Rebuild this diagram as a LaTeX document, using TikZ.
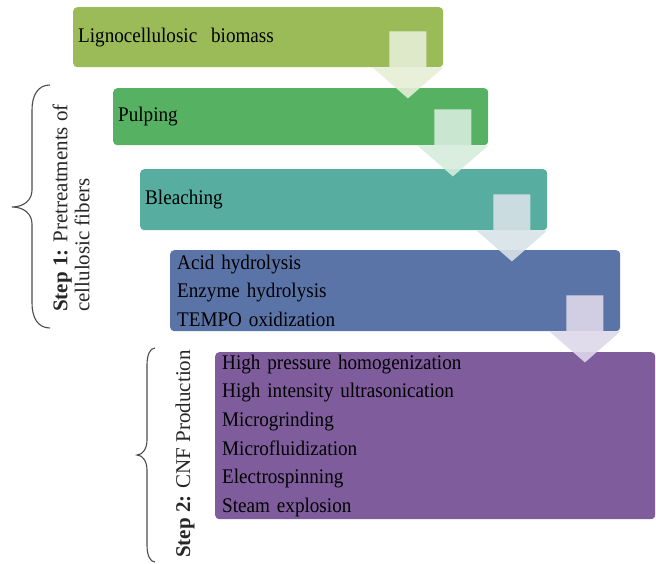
\documentclass[tikz,border=0pt]{standalone}
\usepackage{fontspec}
\setmainfont{Liberation Serif}
\newfontfamily\boxfont[FakeStretch=0.92]{Liberation Serif}
\usetikzlibrary{positioning}

\definecolor{biomassc}{RGB}{155,187,89}
\definecolor{pulpc}{RGB}{86,178,98}
\definecolor{bleachc}{RGB}{86,173,160}
\definecolor{hydroc}{RGB}{91,116,168}
\definecolor{cnfc}{RGB}{127,93,157}
\definecolor{arrowa}{RGB}{230,238,214}
\definecolor{arrowb}{RGB}{214,236,220}
\definecolor{arrowc}{RGB}{215,226,232}
\definecolor{arrowd}{RGB}{222,216,234}

\tikzset{
  stagebox/.style={rounded corners=4pt, anchor=north west, inner xsep=5pt, inner ysep=0pt,
    align=left, text=black, font=\boxfont\fontsize{20.8}{28.6}\selectfont},
  stagearrow/.style={fill opacity=0.9},
  bracelabel/.style={rotate=90, anchor=west, align=left, inner sep=0pt,
    text=black!85, font=\fontsize{21}{22}\selectfont},
  bracestroke/.style={draw=black!70, line width=1.1pt}
}

% block arrow hanging from the lower right corner of a box
\newcommand{\stagedown}[2]{%
  \fill[stagearrow, fill=#2] (#1.south east) -- ++(-35.5,31) -- ++(-35.5,-31)
    -- ++(17,0) -- ++(0,-36) -- ++(37,0) -- ++(0,36) -- cycle;}

\begin{document}
\begin{tikzpicture}[x=1pt, y=-1pt]
      \useasboundingbox (0,0) rectangle (656,564);

      % Stages
      \node[stagebox, fill=biomassc, minimum width=370pt, minimum height=60pt, text width=360pt]
        (biomass) at (73,7) {Lignocellulosic\ \ biomass};
      \node[stagebox, fill=pulpc, minimum width=375pt, minimum height=57pt, text width=365pt]
        (pulping) at (113,88) {Pulping};
      \node[stagebox, fill=bleachc, minimum width=407pt, minimum height=61pt, text width=397pt]
        (bleaching) at (140,169) {Bleaching};
      \node[stagebox, fill=hydroc, minimum width=446pt, minimum height=81pt, text width=436pt, inner xsep=7pt]
        (hydrolysis) at (170,250) {Acid hydrolysis\\Enzyme hydrolysis\\TEMPO oxidization};
      \node[stagebox, fill=cnfc, minimum width=440pt, minimum height=167pt, text width=426pt, inner xsep=7pt]
        (cnf) at (215,352) {High pressure homogenization\\High intensity ultrasonication\\Microgrinding\\Microfluidization\\Electrospinning\\Steam explosion};

      % Arrows between stages
      \stagedown{biomass}{arrowa}
      \stagedown{pulping}{arrowb}
      \stagedown{bleaching}{arrowc}
      \stagedown{hydrolysis}{arrowd}

      % Step 1 brace
      \draw[bracestroke] (50,85) .. controls (38,85) and (32,95) .. (32,110) -- (32,190)
        .. controls (32,200) and (24,207) .. (12,207)
        .. controls (24,207) and (32,214) .. (32,224) -- (32,303)
        .. controls (32,318) and (38,328) .. (50,328);
      \node[bracelabel] (stepone) at (71,312) {\textbf{Step 1:} Pretreatments of\\cellulosic fibers};

      % Step 2 brace
      \draw[bracestroke] (155,348) .. controls (150,348) and (147,355) .. (147,365) -- (147,440)
        .. controls (147,448) and (143,455) .. (137,455)
        .. controls (143,455) and (147,462) .. (147,470) -- (147,545)
        .. controls (147,555) and (150,562) .. (155,562);
      \node[bracelabel] (steptwo) at (185,558) {\textbf{Step 2:} CNF Production};
    \end{tikzpicture}
\end{document}
